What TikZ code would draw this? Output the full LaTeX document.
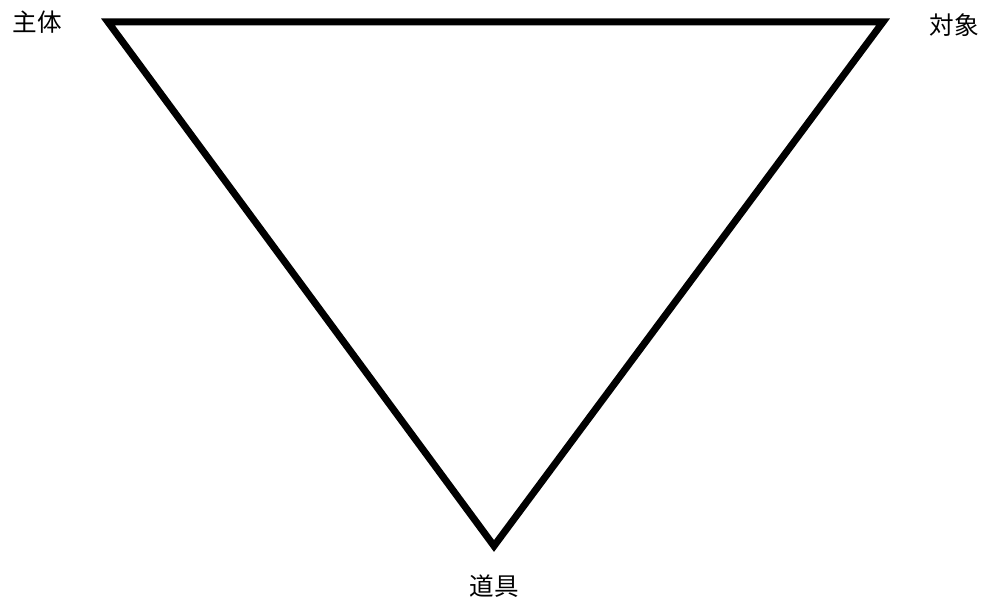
\documentclass[tikz,border=0pt]{standalone}
\usepackage{fontspec}
\newfontfamily\jpfont{Noto Sans CJK JP}
\usetikzlibrary{positioning}

\begin{document}
\begin{tikzpicture}[
  tri/.style={draw=black, line width=4pt, line join=miter},
  vlbl/.style={font=\jpfont\fontsize{14}{17}\selectfont, text=black, inner sep=0pt}
]
\useasboundingbox (0,0) rectangle (19.68,12.02);
% Corners of the triangle
\coordinate (subj) at (2.16,11.58);
\coordinate (obj) at (17.66,11.58);
\coordinate (tool) at (9.88,1.10);

% Triangle
\draw[tri] (subj) -- (obj) -- (tool) -- cycle;

% Labels
\node[vlbl] (subjlbl) at (0.74,11.58) {主体};
\node[vlbl] (objlbl) at (19.08,11.52) {対象};
\node[vlbl] (toollbl) at (9.88,0.30) {道具};
\end{tikzpicture}
\end{document}
